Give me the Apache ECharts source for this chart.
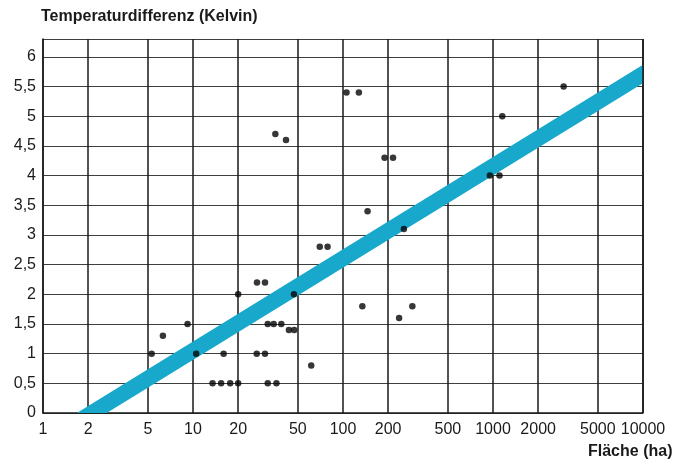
<!DOCTYPE html>
<html>
<head>
<meta charset="utf-8">
<script src="https://cdn.jsdelivr.net/npm/echarts@6/dist/echarts.min.js"></script>
<style>
html,body{margin:0;padding:0;background:#fff;}
#chart{width:691px;height:463px;}
</style>
</head>
<body>
<div id="chart"></div>
<script>
// Tick values
const xTicks = [1, 2, 5, 10, 20, 50, 100, 200, 500, 1000, 2000, 5000, 10000];
const yTicks = [0, 0.5, 1, 1.5, 2, 2.5, 3, 3.5, 4, 4.5, 5, 5.5, 6];

// Data points: Fläche (ha) and Temperaturdifferenz (Kelvin)
const area = [5.3, 6.3, 9.2, 10.5, 13.5, 15.4, 16.0, 17.7, 20, 20,
              26.7, 30.2, 26.6, 30.2, 31.5, 34.5, 38.8, 43.6, 47.3, 47.1,
              31.5, 36, 61.4, 35.4, 41.7, 70, 78.9, 105.5, 127.6, 145.8,
              134.6, 189.3, 215.5, 236.6, 254.7, 290, 953, 1105, 1153, 2958];
const tempDiff = [1.0, 1.3, 1.5, 1.0, 0.5, 0.5, 1.0, 0.5, 0.5, 2.0,
                  2.2, 2.2, 1.0, 1.0, 1.5, 1.5, 1.5, 1.4, 1.4, 2.0,
                  0.5, 0.5, 0.8, 4.7, 4.6, 2.8, 2.8, 5.4, 5.4, 3.4,
                  1.8, 4.3, 4.3, 1.6, 3.1, 1.8, 4.0, 4.0, 5.0, 5.5];

// Trend band (lower and upper edge at the two ends)
const bandX = [1, 10000];
const bandLow = [-0.66, 5.555];
const bandHigh = [-0.35, 5.865];

const points = area.map((a, i) => [a, tempDiff[i]]);
const bandData = bandX.map((x, i) => [x, bandLow[i], bandHigh[i]]);

const chart = echarts.init(document.getElementById('chart'), null, {renderer: 'canvas'});
const FONT = '"Liberation Sans", Arial, sans-serif';

chart.setOption({
  animation: false,
  backgroundColor: '#fff',
  grid: {left: 43, right: 48, top: 39, bottom: 50, containLabel: false},
  xAxis: {
    type: 'log',
    min: 1,
    max: 10000,
    axisLine: {show: true, onZero: false, lineStyle: {color: '#1a1a1a', width: 1.5}},
    axisTick: {show: false, customValues: xTicks},
    axisLabel: {
      customValues: xTicks,
      color: '#1a1a1a', fontFamily: FONT, fontSize: 16, margin: 9,
      formatter: v => String(v)
    },
    splitLine: {show: true, lineStyle: {color: '#1a1a1a', width: 1.5}},
    minorTick: {show: false}, minorSplitLine: {show: false}
  },
  yAxis: {
    type: 'value',
    min: 0,
    max: 6.3,
    interval: 0.5,
    axisLine: {show: true, lineStyle: {color: '#1a1a1a', width: 1.5}},
    axisTick: {show: false},
    axisLabel: {
      color: '#1a1a1a', fontFamily: FONT, fontSize: 16, margin: 7,
      showMaxLabel: false,
      formatter: v => (Math.abs(v * 2 - Math.round(v * 2)) < 1e-6) ? String(v).replace('.', ',') : ''
    },
    splitLine: {show: true, lineStyle: {color: '#3b403b', width: 1.2}}
  },
  graphic: [
    {type: 'text', left: 41, top: 9, style: {text: 'Temperaturdifferenz (Kelvin)', font: 'bold 16px "Liberation Sans", Arial, sans-serif', fill: '#1a1a1a'}},
    {type: 'text', left: 588, top: 444, style: {text: 'Fläche (ha)', font: 'bold 16px "Liberation Sans", Arial, sans-serif', fill: '#1a1a1a'}},
    {type: 'rect', shape: {x: 643, y: 39, width: 0, height: 374}, style: {stroke: '#1a1a1a', lineWidth: 1.5, fill: null}, silent: true, z: 10}
  ],
  series: [
    {
      type: 'custom',
      clip: true,
      z: 2,
      data: bandData,
      renderItem: function (params, api) {
        if (params.dataIndex !== 0) return null;
        const p0l = api.coord([bandData[0][0], bandData[0][1]]);
        const p1l = api.coord([bandData[1][0], bandData[1][1]]);
        const p1h = api.coord([bandData[1][0], bandData[1][2]]);
        const p0h = api.coord([bandData[0][0], bandData[0][2]]);
        return {
          type: 'polygon',
          shape: {points: [p0l, p1l, p1h, p0h]},
          style: {fill: '#18a8cc'}
        };
      },
      encode: {x: 0, y: [1, 2]}
    },
    {
      type: 'scatter',
      z: 5,
      symbol: 'circle',
      symbolSize: 6.5,
      itemStyle: {color: '#050505'},
      data: points
    }
  ]
});
</script>
</body>
</html>
